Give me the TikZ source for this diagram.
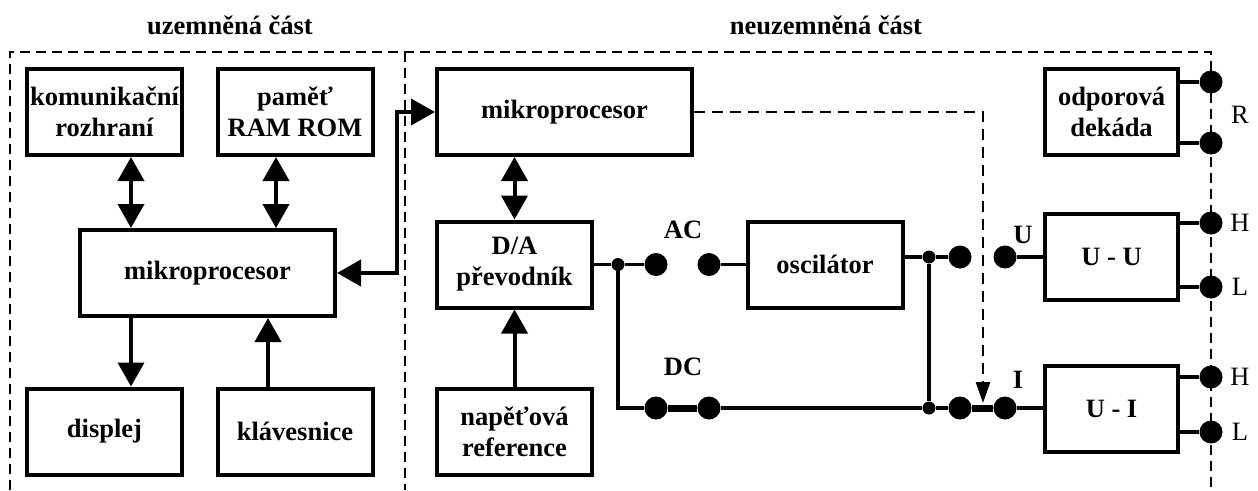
\documentclass[tikz,border=0pt]{standalone}
\usepackage{fontspec}
\setmainfont{Liberation Serif}
\usetikzlibrary{arrows.meta}

\newcommand\pismo{\fontsize{26.5}{31}\selectfont}

\tikzset{
	blok/.style={draw, line width=4pt, minimum width=#1, minimum height=86pt,
		inner sep=0pt, align=center, font=\pismo\bfseries},
	blok/.default=155pt,
	svorka/.style={circle, fill, inner sep=0pt, minimum size=23pt},
	uzel/.style={circle, fill, inner sep=0pt, minimum size=13pt},
	vodic/.style={line width=3.3pt},
	most/.style={line width=7pt},
	sipka/.style={line width=4pt, -{Triangle[width=26pt,length=24pt]}},
	dvoj/.style={line width=4pt,
		{Triangle[width=26pt,length=24pt]}-{Triangle[width=26pt,length=24pt]}},
	hranice/.style={line width=2pt, dash pattern=on 10pt off 6pt},
	ridici/.style={line width=2.8pt, dash pattern=on 11pt off 7pt,
		-{Triangle[width=14pt,length=21pt]}},
	popis/.style={font=\pismo\bfseries, inner sep=0pt},
	kontakt/.style={font=\pismo, inner sep=0pt}
}

\begin{document}
\begin{tikzpicture}[x=1pt, y=-1pt]
\useasboundingbox (0,0) rectangle (1258,490);
% hranice casti
\draw[hranice] (10,490) |- (1211,52) -- (1211,490);
\draw[hranice] (405,52) -- (405,490);
\node[popis] (tUz) at (230,25) {uzemněná část};
\node[popis] (tNe) at (826,25) {neuzemněná část};

% uzemnena cast
\node[blok] (kom) at (104.5,112) {komunikační\\rozhraní};
\node[blok] (pam) at (295,112) {paměť\\RAM ROM};
\node[blok=255pt] (mpL) at (207.5,273) {mikroprocesor};
\node[blok] (disp) at (104.5,431.5) {displej};
\node[blok] (klav) at (295,431.5) {klávesnice};
\coordinate (xa) at (131,0);
\coordinate (xb) at (276,0);
\coordinate (xc) at (268,0);
\draw[dvoj] (kom.south -| xa) -- (mpL.north -| xa);
\draw[dvoj] (pam.south -| xb) -- (mpL.north -| xb);
\draw[sipka] (mpL.south -| xa) -- (disp.north -| xa);
\draw[sipka] (klav.north -| xc) -- (mpL.south -| xc);

% neuzemnena cast
\node[blok=255pt] (mpR) at (564.5,112) {mikroprocesor};
\node[blok] (da) at (514.5,264.5) {D/A\\převodník};
\node[blok] (ref) at (514.5,431.5) {napěťová\\reference};
\node[blok] (osc) at (825,264.5) {oscilátor};
\node[blok=133pt] (dek) at (1111.5,111.5) {odporová\\dekáda};
\node[blok=133pt] (uu) at (1111.5,256.5) {U - U};
\node[blok=133pt] (ui) at (1111.5,408.5) {U - I};
\coordinate (xd) at (397,0);
\draw[dvoj] (mpL.east) -| (xd |- mpR.west) -- (mpR.west);
\draw[dvoj] (mpR.south -| da.north) -- (da.north);
\draw[sipka] (ref.north) -- (da.north |- da.south);

% prepinac AC / DC
\node[uzel] (j1) at (618,264.5) {};
\node[uzel] (j2) at (929,257) {};
\node[uzel] (j3) at (929,408) {};
\node[svorka] (acL) at (656,264.5) {};
\node[svorka] (acR) at (709,264.5) {};
\node[svorka] (dcL) at (656,408) {};
\node[svorka] (dcR) at (709,408) {};
\node[svorka] (uA) at (960,257) {};
\node[svorka] (uB) at (1005,257) {};
\node[svorka] (iA) at (960,408) {};
\node[svorka] (iB) at (1005,408) {};
\draw[vodic] (da.east) -- (j1) -- (acL);
\draw[vodic] (acR) -- (osc.west);
\draw[vodic] (j1) |- (dcL);
\draw[most] (dcL) -- (dcR);
\draw[vodic] (dcR) -- (j3) -- (iA);
\draw[most] (iA) -- (iB);
\draw[vodic] (iB) -- (ui.west |- iB);
\draw[vodic] (osc.east |- j2) -- (j2) -- (uA);
\draw[vodic] (j2) -- (j3);
\draw[vodic] (uB) -- (uu.west |- uB);
\node[popis] (lAC) at (683,230) {AC};
\node[popis] (lDC) at (683,367) {DC};
\node[popis] (lU) at (1023,235) {U};
\node[popis] (lI) at (1018,380) {I};
\coordinate (hrot) at (983,403);
\draw[ridici] (mpR.east) -| (hrot);

% vystupni svorky
\foreach \n/\y/\b in {rA/82/dek, rB/143/dek, uH/223/uu, uL/287/uu, iH/377/ui, iL/432/ui} {
	\node[svorka] (\n) at (1211,\y) {};
	\draw[vodic] (\b.east |- \n) -- (\n);
}
\node[kontakt] (lR) at (1240,115) {R};
\node[kontakt] (lUH) at (1240,223) {H};
\node[kontakt] (lUL) at (1240,287) {L};
\node[kontakt] (lIH) at (1240,377) {H};
\node[kontakt] (lIL) at (1240,432) {L};
\end{tikzpicture}
\end{document}
